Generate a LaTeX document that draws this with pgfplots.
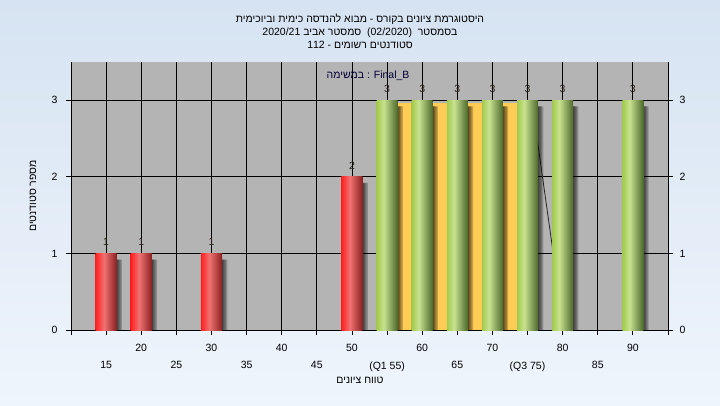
\documentclass[border=0pt]{standalone}
\usepackage{fontspec}
\setmainfont{Liberation Sans}
\newfontfamily\heb[Script=Hebrew]{Liberation Sans}
\TeXXeTstate=1
\usepackage{pgfplots}
\usepackage{pgfplotstable}
\pgfplotsset{compat=1.18}
\definecolor{bgtop}{HTML}{D6E3F2}
\definecolor{bgbot}{HTML}{EFF5FC}
\definecolor{plotgray}{HTML}{B4B4B4}
\definecolor{iqr}{HTML}{FFCC55}
\definecolor{rA}{HTML}{FF2020}
\definecolor{rB}{HTML}{F07272}
\definecolor{rC}{HTML}{8A2020}
\definecolor{gA}{HTML}{A2CA4C}
\definecolor{gB}{HTML}{C8E290}
\definecolor{gC}{HTML}{4C682A}
\definecolor{lbl}{HTML}{2A2218}
\pgfdeclarehorizontalshading{redbar}{100bp}{color(0bp)=(rA); color(25bp)=(rA); color(45bp)=(rB); color(75bp)=(rC); color(100bp)=(rC)}
\pgfdeclarehorizontalshading{greenbar}{100bp}{color(0bp)=(gA); color(25bp)=(gA); color(42bp)=(gB); color(75bp)=(gC); color(100bp)=(gC)}
\newcommand\fs{\fontsize{10.5bp}{13bp}\selectfont}

\pgfplotstableread{
x y
15 0.92
20 0.92
30 0.92
50 1.92
55 2.92
60 2.92
65 2.92
70 2.92
75 2.92
80 2.92
90 2.92
}\shadowtab

\pgfplotsset{
  barbase/.style={ybar, bar width=3, bar shift=0, shade, draw=none,
    nodes near coords, nodes near coords style={font=\fs, text=lbl, yshift=4bp}},
  redb/.style={barbase, shading=redbar},
  greenb/.style={barbase, shading=greenbar},
  shadowb/.style={ybar, bar width=3, bar shift=#1, fill=black, fill opacity=0.22, draw=none},
}

\begin{document}
\begin{tikzpicture}[x=1bp,y=1bp]
\shade[top color=bgtop,bottom color=bgbot] (0,0) rectangle (720,405);
\begin{axis}[
  at={(71bp,75bp)}, anchor=south west,
  scale only axis, width=597bp, height=268bp,
  xmin=10, xmax=95, ymin=0, ymax=3.5,
  axis x line*=bottom, axis y line*=left,
  axis line style={black, line width=0.8bp, -},
  axis background/.style={fill=plotgray},
  xtick={10,20,...,90},
  xticklabels={,20,30,40,50,60,70,80,90},
  extra x ticks={15,25,...,95},
  extra x tick labels={15,25,35,45,(Q1 55),65,(Q3 75),85,},
  extra x tick style={grid=major, xticklabel style={yshift=-17bp}},
  ytick={0,1,2,3},
  grid=major,
  major grid style={black, line width=0.8bp},
  tick align=outside, major tick length=5bp,
  tick style={black, line width=0.8bp},
  xticklabel style={font=\fs, yshift=-6bp},
  yticklabel style={font=\fs, xshift=-5bp},
  /pgf/number format/assume math mode=true,
]
\addplot[fill=iqr, draw=none] coordinates {(55,2.97) (75,2.97)} \closedcycle;
\addplot[black!85, line width=0.8bp] coordinates {(76,2.74) (79.5,0.45)};
\addplot[shadowb=0.15] table[x=x,y=y] {\shadowtab};
\addplot[shadowb=0.35] table[x=x,y=y] {\shadowtab};
\addplot[shadowb=0.55] table[x=x,y=y] {\shadowtab};
\addplot[shadowb=0.75] table[x=x,y=y] {\shadowtab};
\addplot[redb] coordinates {(15,1)};
\addplot[redb] coordinates {(20,1)};
\addplot[redb] coordinates {(30,1)};
\addplot[redb] coordinates {(50,2)};
\addplot[greenb] coordinates {(55,3)};
\addplot[greenb] coordinates {(60,3)};
\addplot[greenb] coordinates {(65,3)};
\addplot[greenb] coordinates {(70,3)};
\addplot[greenb] coordinates {(75,3)};
\addplot[greenb] coordinates {(80,3)};
\addplot[greenb] coordinates {(90,3)};
\node[font=\fs, text=black!80!blue] at (axis cs:52.3,3.32) {{\heb\beginR במשימה\endR} : Final\_B};
\end{axis}
\begin{axis}[
  at={(71bp,75bp)}, anchor=south west,
  scale only axis, width=597bp, height=268bp,
  xmin=10, xmax=95, ymin=0, ymax=3.5,
  axis y line*=right, hide x axis,
  axis line style={black, line width=0.8bp, -},
  ytick={0,1,2,3},
  tick align=outside, major tick length=5bp,
  tick style={black, line width=0.8bp},
  yticklabel style={font=\fs, xshift=3bp},
  /pgf/number format/assume math mode=true,
]
\addplot[draw=none] coordinates {(10,0) (95,3.5)};
\end{axis}
\node[align=center, font=\heb\fs] at (360,374) {\beginR היסטוגרמת ציונים בקורס - מבוא להנדסה כימית וביוכימית\endR\\
\beginR בסמסטר\ \ \beginL(02/2020)\endL\ \ סמסטר אביב \beginL2020/21\endL\endR\\
\beginR סטודנטים רשומים - \beginL112\endL\endR};
\node[font=\heb\fs] at (360,25) {\beginR טווח ציונים\endR};
\node[font=\heb\fs, rotate=90] at (33,209) {\beginR מספר סטודנטים\endR};
\end{tikzpicture}
\end{document}
